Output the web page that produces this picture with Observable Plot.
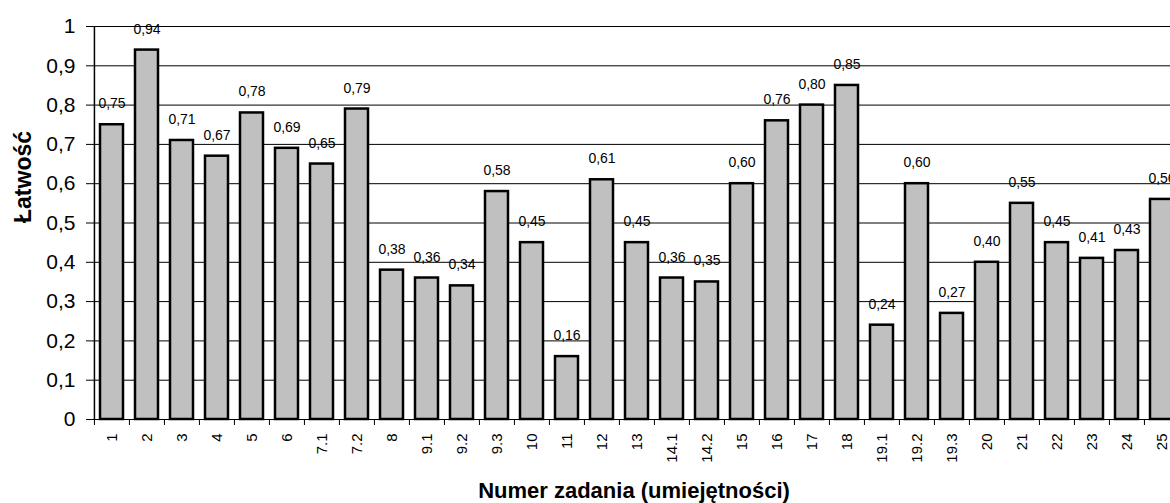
<!DOCTYPE html>
<html><head><meta charset="utf-8">
<script src="https://cdn.jsdelivr.net/npm/d3@7"></script>
<script src="https://cdn.jsdelivr.net/npm/@observablehq/plot@0.6"></script>
<style>
html,body{margin:0;padding:0;overflow:hidden;background:#fff}
#chart svg{max-width:none !important;display:block}
</style>
</head><body><div id="chart"></div>
<script>
const categories = ["1","2","3","4","5","6","7.1","7.2","8","9.1","9.2","9.3","10","11","12","13","14.1","14.2","15","16","17","18","19.1","19.2","19.3","20","21","22","23","24","25"];
const values = [0.75,0.94,0.71,0.67,0.78,0.69,0.65,0.79,0.38,0.36,0.34,0.58,0.45,0.16,0.61,0.45,0.36,0.35,0.60,0.76,0.80,0.85,0.24,0.60,0.27,0.40,0.55,0.45,0.41,0.43,0.56];
const yTicks = [0,0.1,0.2,0.3,0.4,0.5,0.6,0.7,0.8,0.9,1];
const yTitle = "Łatwość";
const xTitle = "Numer zadania (umiejętności)";

const data = categories.map((c, i) => ({cat: c, value: values[i]}));
const W = 1181, ML = 92, MR = 0, H = 503, MT = 26, MB = 84;
const step = (W - ML - MR) / categories.length;
const tickLen = 6 / (H - MT - MB);
const comma = s => s.replace(".", ",");

const chart = Plot.plot({
  width: W, height: H,
  marginLeft: ML, marginRight: MR, marginTop: MT, marginBottom: MB,
  style: {fontFamily: "Arial, 'Liberation Sans', sans-serif", color: "#000", background: "#fff", maxWidth: "none"},
  x: {domain: categories, padding: 0, axis: null},
  y: {domain: [0, 1], axis: null},
  marks: [
    Plot.ruleY(yTicks, {stroke: "#000", strokeWidth: 1}),
    Plot.barY(data, {x: "cat", y: "value", fill: "#c0c0c0", stroke: "#000", strokeWidth: 2.5, insetLeft: 6, insetRight: 6}),
    Plot.ruleX(categories, {x: d => d, dx: -step / 2, y1: 0, y2: -tickLen, stroke: "#000"}),
    Plot.ruleX([categories[0]], {x: d => d, dx: -step / 2, stroke: "#000", strokeWidth: 1.5}),
    Plot.axisY({ticks: yTicks, tickSize: 6, tickPadding: 11, fontSize: 21, tickFormat: d => comma(String(d)), label: null, stroke: "#000"}),
    Plot.axisX({tickSize: 0, tickPadding: 14, tickRotate: -90, fontSize: 15, label: null}),
    Plot.text(data, {x: "cat", y: "value", text: d => comma(d.value.toFixed(2)), dy: -21, fontSize: 14, fill: "#000"}),
    Plot.text([yTitle], {frameAnchor: "left", dx: -69, rotate: -90, fontSize: 23, fontWeight: "bold", fill: "#000"}),
    Plot.text([xTitle], {frameAnchor: "bottom", dy: 71, dx: -3, fontSize: 22, fontWeight: "bold", lineAnchor: "middle", fill: "#000"})
  ]
});
document.getElementById("chart").appendChild(chart);
</script>
</body></html>
